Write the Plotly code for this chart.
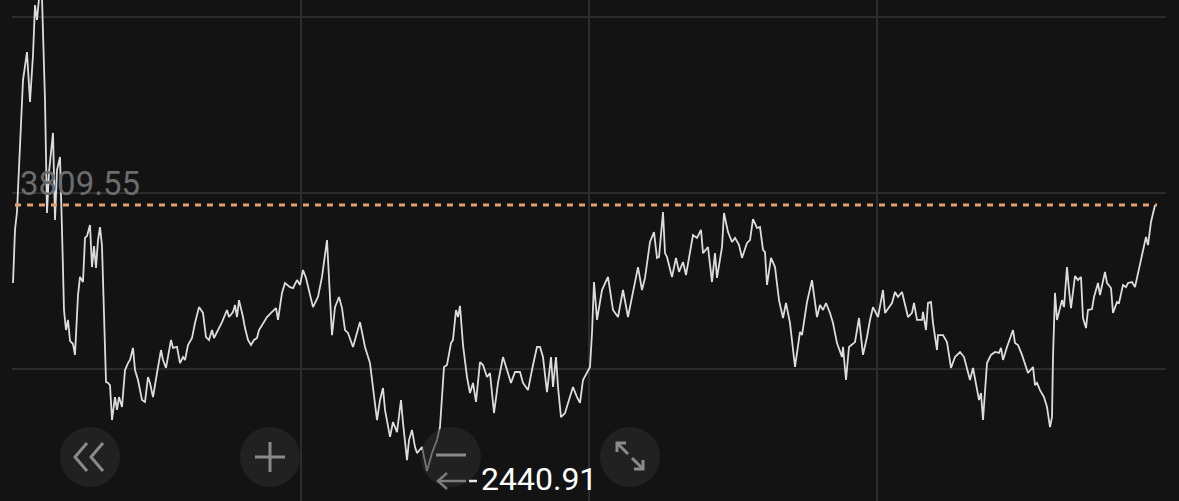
import plotly.graph_objects as go

# time index (trading-day position) and index level
t = [0, 2, 4, 7, 10, 14, 17, 20, 22, 24, 27, 29, 32, 34, 36, 40, 42, 44, 47, 49,
     51, 53, 55, 57, 60, 62, 65, 67, 70, 72, 74, 77, 79, 81, 83, 85, 87, 89, 91, 93,
     95, 97, 99, 102, 104, 106, 109, 112, 115, 117, 120, 122, 125, 129, 132, 135, 137, 140, 144, 148,
     150, 153, 158, 160, 164, 167, 170, 172, 175, 179, 182, 186, 190, 193, 196, 199, 201, 205, 209, 214,
     216, 220, 222, 224, 226, 230, 232, 235, 238, 241, 244, 246, 250, 254, 258, 263, 265, 269, 272, 277,
     280, 284, 287, 290, 293, 300, 305, 309, 314, 319, 322, 326, 329, 332, 335, 340, 347, 352, 357, 361,
     364, 367, 370, 372, 375, 377, 380, 384, 388, 390, 394, 396, 399, 402, 404, 409, 414, 419, 424, 427,
     431, 434, 438, 440, 443, 445, 447, 450, 454, 457, 460, 463, 467, 470, 474, 477, 481, 485, 490, 494,
     498, 502, 507, 510, 515, 520, 524, 527, 530, 534, 538, 540, 543, 545, 548, 552, 557, 560, 564, 567,
     570, 574, 577, 579, 581, 584, 589, 595, 600, 605, 610, 615, 619, 622, 625, 629, 632, 637, 641, 644,
     646, 650, 652, 654, 659, 663, 666, 670, 673, 676, 680, 684, 688, 690, 695, 699, 702, 704, 709, 711,
     715, 719, 722, 726, 729, 734, 737, 740, 744, 747, 750, 752, 754, 758, 762, 766, 770, 773, 777, 782,
     787, 789, 794, 799, 804, 807, 810, 813, 817, 820, 824, 829, 830, 833, 836, 842, 846, 850, 854, 857,
     860, 865, 870, 872, 879, 882, 885, 889, 892, 895, 899, 901, 904, 909, 910, 913, 915, 918, 920, 924,
     925, 930, 934, 938, 942, 947, 951, 954, 957, 960, 964, 966, 968, 970, 974, 978, 982, 986, 988, 990,
     994, 997, 1000, 1002, 1005, 1009, 1012, 1015, 1020, 1022, 1024, 1027, 1031, 1034, 1037, 1039, 1040, 1042, 1044, 1049,
     1051, 1054, 1056, 1058, 1062, 1065, 1068, 1070, 1073, 1075, 1079, 1081, 1085, 1087, 1092, 1094, 1098, 1100, 1104, 1106,
     1110, 1113, 1115, 1119, 1122, 1126, 1130, 1133, 1135, 1138, 1142]

level = [3408, 3681, 3773, 4082, 4452, 4596, 4339, 4581, 4838, 4761, 4926, 4874, 4349, 3768, 3979, 4180, 3732, 3989, 4056, 3681,
         3269, 3166, 3218, 3110, 3094, 3038, 3346, 3439, 3413, 3640, 3650, 3706, 3490, 3598, 3485, 3629, 3696, 3598, 3218, 2899,
         2894, 2883, 2703, 2821, 2755, 2821, 2770, 2960, 2996, 3012, 3074, 2960, 2909, 2806, 2796, 2924, 2894, 2821, 2945, 3063,
         3012, 2971, 3115, 3074, 3079, 2996, 3027, 3012, 3089, 3125, 3202, 3284, 3254, 3130, 3115, 3166, 3125, 3166, 3207, 3269,
         3233, 3259, 3295, 3233, 3320, 3233, 3176, 3115, 3089, 3115, 3125, 3166, 3202, 3233, 3254, 3279, 3218, 3357, 3408, 3387,
         3382, 3423, 3398, 3475, 3434, 3284, 3336, 3439, 3629, 3140, 3284, 3336, 3279, 3166, 3151, 3079, 3207, 3079, 2996, 2821,
         2703, 2806, 2868, 2755, 2677, 2616, 2693, 2641, 2806, 2688, 2497, 2600, 2652, 2564, 2533, 2564, 2440.91, 2533, 2600, 2667,
         2976, 2986, 3099, 3115, 3269, 3233, 3290, 3089, 2924, 2842, 2894, 2796, 3001, 2986, 2924, 2945, 2739, 2894, 3027, 2960,
         2894, 2950, 2950, 2894, 2857, 2986, 3079, 3079, 3027, 2847, 3027, 2873, 3027, 2873, 2718, 2739, 2821, 2873, 2821, 2791,
         2909, 2945, 2976, 3151, 3413, 3218, 3372, 3439, 3269, 3233, 3372, 3233, 3336, 3408, 3490, 3372, 3434, 3619, 3670, 3537,
         3542, 3773, 3562, 3542, 3439, 3537, 3465, 3516, 3449, 3537, 3655, 3640, 3681, 3562, 3593, 3413, 3562, 3434, 3593, 3768,
         3670, 3619, 3640, 3604, 3537, 3614, 3629, 3737, 3691, 3696, 3578, 3567, 3398, 3537, 3490, 3320, 3228, 3305, 3202, 2976,
         3156, 3140, 3310, 3423, 3233, 3295, 3269, 3305, 3254, 3202, 3099, 3027, 3079, 2909, 3079, 3104, 3228, 3038, 3130, 3218,
         3284, 3233, 3372, 3254, 3305, 3362, 3336, 3362, 3295, 3233, 3254, 3305, 3218, 3218, 3259, 3166, 3305, 3310, 3202, 3063,
         3140, 3140, 3104, 2971, 3027, 3053, 3027, 2971, 2909, 2971, 2857, 2806, 2842, 2703, 2996, 3038, 3053, 3048, 3074, 3012,
         3079, 3125, 3166, 3099, 3089, 3038, 2996, 2945, 2976, 2883, 2894, 2857, 2821, 2770, 2667, 2718, 3027, 3357, 3218, 3320,
         3284, 3490, 3372, 3279, 3444, 3423, 3439, 3228, 3176, 3269, 3274, 3336, 3408, 3346, 3465, 3408, 3382, 3254, 3310, 3305,
         3398, 3387, 3408, 3413, 3387, 3485, 3588, 3645, 3603, 3722, 3809.55]

last_label = "3809.55"
min_label = "2440.91"

BG = "#131313"
GRID = "#2c2c2c"
ICON = "#8a8a8a"

W, H = 1179, 501
Y_RANGE = [2286.4, 4864.0]

fig = go.Figure()

fig.add_trace(go.Scatter(
    x=t, y=level, mode="lines",
    line=dict(color="#dcdcdc", width=1.8),
    hoverinfo="skip", showlegend=False,
))
# helper subplot in pixel units for UI overlays
fig.add_trace(go.Scatter(x=[], y=[], xaxis="x2", yaxis="y2", showlegend=False, hoverinfo="skip"))

last_val = level[-1]

shapes = []
# reference (latest) level dashed line
shapes.append(dict(type="line", xref="x", yref="y", x0=t[0] + 2, x1=t[-1] + 2,
                   y0=last_val, y1=last_val,
                   line=dict(color="#e4a070", width=3, dash="6px,6px"), layer="above"))

# round buttons
for cx in [90, 270, 451, 630]:
    shapes.append(dict(type="circle", xref="x2", yref="y2",
                       x0=cx - 30, x1=cx + 30, y0=457 - 30, y1=457 + 30,
                       fillcolor="rgba(44,44,44,0.6)", line=dict(width=0), layer="above"))

def seg(x0, y0, x1, y1, color=ICON, w=3):
    shapes.append(dict(type="line", xref="x2", yref="y2", x0=x0, y0=y0, x1=x1, y1=y1,
                       line=dict(color=color, width=w), layer="above"))

def path(d, color=ICON, w=3):
    shapes.append(dict(type="path", xref="x2", yref="y2", path=d,
                       line=dict(color=color, width=w), layer="above"))

# « icon
path("M 87 443 L 75 457 L 87 471")
path("M 103 443 L 91 457 L 103 471")
# + icon
seg(255, 457, 285, 457)
seg(270, 442, 270, 472)
# − icon
seg(436, 455, 466, 455)
# expand icon
seg(617, 443, 628, 454)
path("M 617 452 L 617 443 L 626 443")
seg(632, 458, 643, 469)
path("M 634 469 L 643 469 L 643 460")
# min arrow
seg(438, 481, 466, 481, color="#7c7c7c", w=2.5)
path("M 447 473 L 438 481 L 447 489", color="#7c7c7c", w=2.5)
seg(469, 481, 477, 481, color="#e8e8e8", w=2.5)

annotations = [
    dict(xref="x2", yref="y", x=18, y=last_val, text=last_label, showarrow=False,
         xanchor="left", yanchor="bottom", yshift=0,
         font=dict(family="Roboto", size=33, color="#6c6c6c")),
    dict(xref="x2", yref="y2", x=479, y=479, text=min_label, showarrow=False,
         xanchor="left", yanchor="middle",
         font=dict(family="Roboto", size=32, color="#ffffff")),
]

fig.update_layout(
    width=W, height=H,
    margin=dict(l=0, r=0, t=0, b=0),
    paper_bgcolor=BG, plot_bgcolor="rgba(0,0,0,0)",
    showlegend=False,
    xaxis=dict(domain=[12 / W, 1166 / W], range=[-1, 1153], tick0=0, dtick=288,
               showgrid=True, gridcolor=GRID, gridwidth=2, zeroline=False,
               showticklabels=False, ticks="", showline=False, fixedrange=True),
    yaxis=dict(domain=[0, 1], range=Y_RANGE, tick0=2965.5, dtick=905.5,
               showgrid=True, gridcolor=GRID, gridwidth=2, zeroline=False,
               showticklabels=False, ticks="", showline=False, fixedrange=True),
    xaxis2=dict(domain=[0, 1], range=[0, W], anchor="y2", visible=False, fixedrange=True),
    yaxis2=dict(domain=[0, 1], range=[H, 0], anchor="x2", visible=False, fixedrange=True),
    shapes=shapes,
    annotations=annotations,
)

fig.write_html("out.html", config={"displayModeBar": False},
               post_script="document.body.style.margin='0';document.body.style.background='#131313';")
